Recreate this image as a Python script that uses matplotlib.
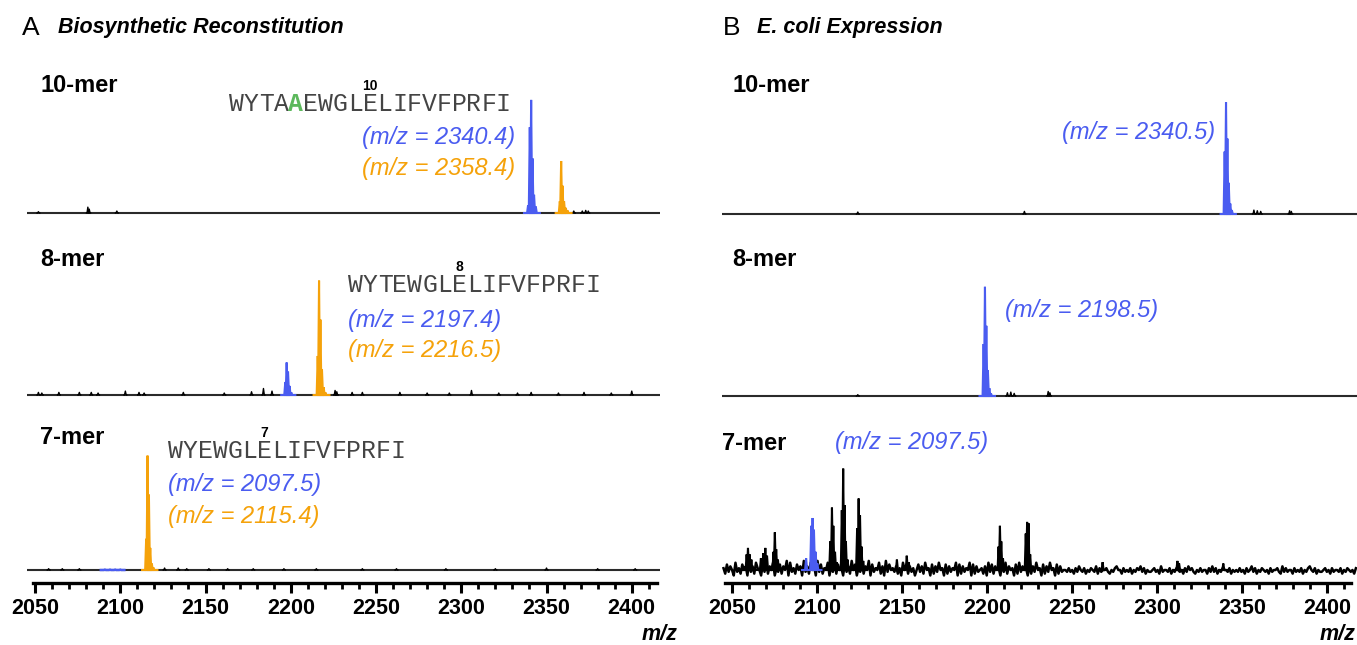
import numpy as np
import matplotlib
matplotlib.use("Agg")
import matplotlib.pyplot as plt
from matplotlib.ticker import MultipleLocator

# canvas size in pixels (dpi 100)
W, H = 1357, 645

BLUE = "#4a5cf0"
ORANGE = "#f5a20a"
GREEN = "#5cb85c"
SANS = "Liberation Sans"
MONO = "Liberation Mono"

# isotope sticks: (m/z, intensity in % of row height)
A10_BLUE = [(2339.2, 6), (2340.2, 66), (2341.0, 87), (2341.8, 42), (2342.7, 14), (2343.7, 5)]
A10_ORANGE = [(2357.8, 9), (2358.6, 40), (2359.4, 21), (2360.3, 9), (2361.3, 4), (2362.3, 2)]
A10_MINOR = [(2052.0, 1), (2081.0, 4.5), (2081.8, 3), (2098.0, 1.5), (2366.0, 1.5), (2371.0, 1.5), (2373.0, 2), (2374.5, 1.5)]

A8_BLUE = [(2196.8, 10), (2197.6, 25), (2198.4, 18), (2199.3, 7), (2200.3, 2)]
A8_ORANGE = [(2215.8, 30), (2216.6, 88), (2217.4, 58), (2218.3, 20), (2219.3, 6), (2220.3, 2)]
A8_MINOR = [(2052.0, 2), (2054.0, 1.5), (2064.0, 2), (2076.0, 2), (2083.0, 2), (2087.0, 1.5),
            (2103.0, 3), (2111.0, 2), (2114.0, 1.5), (2137.0, 2), (2161.0, 1.5), (2177.0, 2.5),
            (2184.0, 5), (2189.0, 3), (2226.0, 3.5), (2227.0, 2.5), (2236.0, 2), (2242.0, 2),
            (2264.0, 2), (2280.0, 1.5), (2293.0, 1.5), (2306.0, 3.5), (2322.0, 1.5), (2333.0, 1.5),
            (2341.0, 2), (2357.0, 1.5), (2372.0, 2), (2388.0, 1.5), (2400.0, 3)]

A7_BLUE = [(2091.0, 0.3), (2094.0, 0.3), (2097.0, 0.3), (2100.0, 0.3)]
A7_ORANGE = [(2115.2, 24), (2116.0, 88), (2116.8, 58), (2117.6, 17), (2118.5, 5), (2119.4, 2)]
A7_MINOR = [(2058.0, 1), (2066.0, 1), (2076.0, 1), (2126.0, 1.5), (2134.0, 1.5), (2139.0, 1),
            (2152.0, 1), (2163.0, 1), (2178.0, 1), (2196.0, 1), (2215.0, 1), (2242.0, 1),
            (2262.0, 1), (2291.0, 1), (2320.0, 1), (2350.0, 1.5), (2380.0, 1), (2402.0, 1)]

B10_BLUE = [(2339.8, 48), (2340.6, 86), (2341.4, 58), (2342.2, 24), (2343.1, 8), (2344.0, 3)]
B10_MINOR = [(2124.0, 1.5), (2222.0, 2), (2357.0, 3), (2359.0, 2.5), (2361.0, 2), (2378.0, 2.5), (2379.0, 2)]

B8_BLUE = [(2198.0, 40), (2198.8, 84), (2199.6, 54), (2200.5, 20), (2201.4, 6), (2202.3, 2)]
B8_MINOR = [(2124.0, 1), (2212.0, 2.5), (2214.0, 3), (2216.0, 2), (2236.0, 3.5), (2237.0, 2.5)]

B7_BLUE = [(2093.6, 9), (2096.6, 34), (2097.4, 40), (2098.2, 31), (2099.2, 14), (2100.2, 5)]
B7_PEAKS = [
    [(2058.6, 12), (2059.4, 17), (2060.4, 12), (2061.4, 8)],
    [(2067.0, 9), (2068.4, 13), (2069.6, 17), (2070.6, 11)],
    [(2074.4, 14), (2075.2, 29), (2076.0, 16), (2077.0, 8)],
    [(2107.8, 22), (2108.8, 48), (2109.6, 34), (2110.6, 14), (2111.6, 6)],
    [(2114.6, 46), (2115.4, 78), (2116.2, 50), (2117.0, 22), (2118.0, 8)],
    [(2123.6, 32), (2124.5, 55), (2125.3, 42), (2126.2, 18), (2127.2, 7)],
    [(2147.0, 8)],
    [(2152.8, 11), (2154.0, 6)],
    [(2206.8, 18), (2207.6, 34), (2208.4, 22), (2209.4, 9)],
    [(2222.8, 28), (2223.6, 37), (2224.4, 36), (2225.4, 12)],
    [(2268.0, 6)],
    [(2312.0, 7), (2313.0, 5)],
    [(2339.0, 5)],
]
# baseline noise of the E. coli 7-mer trace, one digit per step (4 = baseline)
B7_NOISE = (
    "52736418352746193628541739264815372649183527461936"
    "28461937254816392745183629471538264917354826193745"
    "36251847263514736284517263845172635481726354817263"
    "45261837264517382645172836451726384517263845172634"
    "43534253643524354362534453243564425343524354635243"
    "34534263443524354342536453243534425363524354435243"
    "43534253463524354342534453263534425343524356435243"
    "345342534435243543425"
)

TICKS = [2050, 2100, 2150, 2200, 2250, 2300, 2350, 2400]

SEQ10 = "WYTAAEWGLELIFVFPRFI"
SEQ8 = "WYTEWGLELIFVFPRFI"
SEQ7 = "WYEWGLELIFVFPRFI"

fig = plt.figure(figsize=(W / 100, H / 100), dpi=100)


def fx(x):
    return x / W


def fy(y):
    return 1 - y / H


def add_row(left, right, base, x2050, ppu, depth=8, top=130):
    ax = fig.add_axes([fx(left), fy(base + depth), (right - left) / W, (top + depth) / H])
    ax.set_xlim(2050 + (left - x2050) / ppu, 2050 + (right - x2050) / ppu)
    ax.set_ylim(-depth / top * 100, 100)
    ax.patch.set_alpha(0)
    for s in ax.spines.values():
        s.set_visible(False)
    ax.set_xticks([])
    ax.set_yticks([])
    return ax


def sticks_polygon(sticks, w=0.6, pad=2.4):
    xs = [sticks[0][0] - pad]
    ys = [0]
    for m, h in sticks:
        xs += [m - w, m, m + w]
        ys += [0, h, 0]
    xs.append(sticks[-1][0] + pad)
    ys.append(0)
    return xs, ys


def draw_cluster(ax, sticks, color, lw=1.5):
    xs, ys = sticks_polygon(sticks)
    ax.fill(xs, ys, color=color, lw=0)
    ax.plot(xs, ys, color=color, lw=lw, solid_joinstyle="miter")


def draw_minor(ax, sticks):
    for m, h in sticks:
        xs, ys = sticks_polygon([(m, h)], w=0.5, pad=0.8)
        ax.fill(xs, ys, color="black", lw=0)
        ax.plot(xs, ys, color="black", lw=1.0)


def draw_baseline(ax):
    ax.plot(ax.get_xlim(), [0, 0], color="#2a2a2a", lw=1.5)


def draw_axis(ax, lo, hi):
    sp = ax.spines["bottom"]
    sp.set_visible(True)
    sp.set_linewidth(2.4)
    sp.set_bounds(lo, hi)
    ax.set_xticks(TICKS)
    ax.set_xticklabels([str(t) for t in TICKS], fontsize=15.5, fontweight="bold", family=SANS)
    ax.xaxis.set_minor_locator(MultipleLocator(10))
    ax.tick_params(axis="x", which="major", length=7, width=2.2, pad=3.5)
    ax.tick_params(axis="x", which="minor", length=4.5, width=2.0)


# ---- panel A rows
LX, LPPU = 35, 1.705
a10 = add_row(27, 660, 213, LX, LPPU)
a8 = add_row(27, 660, 395, LX, LPPU)
a7 = add_row(27, 660, 570, LX, LPPU, depth=13)

for ax, minor in ((a10, A10_MINOR), (a8, A8_MINOR), (a7, A7_MINOR)):
    draw_baseline(ax)
    draw_minor(ax, minor)

draw_cluster(a10, A10_BLUE, BLUE)
draw_cluster(a10, A10_ORANGE, ORANGE)
draw_cluster(a8, A8_BLUE, BLUE)
draw_cluster(a8, A8_ORANGE, ORANGE)
draw_cluster(a7, A7_BLUE, BLUE, lw=1.8)
draw_cluster(a7, A7_ORANGE, ORANGE)
draw_axis(a7, 2048.8, 2414.8)

# ---- panel B rows
RX, RPPU = 732, 1.70
b10 = add_row(722, 1357, 214, RX, RPPU)
b8 = add_row(722, 1357, 396, RX, RPPU)
b7 = add_row(722, 1357, 570, RX, RPPU, depth=13)

for ax, minor in ((b10, B10_MINOR), (b8, B8_MINOR)):
    draw_baseline(ax)
    draw_minor(ax, minor)
draw_cluster(b10, B10_BLUE, BLUE)
draw_cluster(b8, B8_BLUE, BLUE)

noise = np.array([(int(d) - 4) * 1.4 for d in B7_NOISE])
nx = np.linspace(2045, 2417, len(noise))
b7.plot(nx, noise, color="black", lw=1.8)
for pk in B7_PEAKS:
    draw_cluster(b7, pk, "black", lw=1.5)
draw_cluster(b7, B7_BLUE, BLUE)
draw_axis(b7, 2045.9, 2414.0)


# ---- text
def t(x, y, s, **kw):
    kw.setdefault("family", SANS)
    kw.setdefault("va", "center")
    kw.setdefault("ha", "left")
    fig.text(fx(x), fy(y), s, **kw)


t(22, 28, "A", fontsize=19)
t(58, 28, "Biosynthetic Reconstitution", fontsize=15.5, fontweight="bold", style="italic")
t(723, 28, "B", fontsize=19)
t(757, 28, "E. coli Expression", fontsize=15.5, fontweight="bold", style="italic")

for x, y, s in ((40, 86, "10-mer"), (40, 259, "8-mer"), (40, 437, "7-mer"),
                (732, 86, "10-mer"), (732, 259, "8-mer"), (722, 443, "7-mer")):
    t(x, y, s, fontsize=17, fontweight="bold")

SEQ_FS = 17.8
ADV = 0.6 * SEQ_FS * 100 / 72  # px per character


def sequence(x0, y, seq, pos, highlight=None):
    for i, ch in enumerate(seq):
        if i == highlight:
            t(x0 + i * ADV, y, ch, family=MONO, fontsize=SEQ_FS, color=GREEN, fontweight="bold")
        else:
            t(x0 + i * ADV, y, ch, family=MONO, fontsize=SEQ_FS, color="#444444")
    t(x0 + (pos - 0.5) * ADV, y - 18, str(pos), fontsize=10, fontweight="bold", ha="center")


sequence(229, 104, SEQ10, 10, highlight=4)
sequence(348, 285, SEQ8, 8)
sequence(168, 451, SEQ7, 7)

MZ_FS = 17
for x, y, s, c, ha in ((362, 137, "(m/z = 2340.4)", BLUE, "left"),
                       (362, 168, "(m/z = 2358.4)", ORANGE, "left"),
                       (348, 320, "(m/z = 2197.4)", BLUE, "left"),
                       (348, 350, "(m/z = 2216.5)", ORANGE, "left"),
                       (168, 485, "(m/z = 2097.5)", BLUE, "left"),
                       (168, 516, "(m/z = 2115.4)", ORANGE, "left"),
                       (1215, 133, "(m/z = 2340.5)", BLUE, "right"),
                       (1005, 311, "(m/z = 2198.5)", BLUE, "left"),
                       (835, 443, "(m/z = 2097.5)", BLUE, "left")):
    t(x, y, s, fontsize=MZ_FS, style="italic", color=c, ha=ha)

t(677, 634, "m/z", fontsize=15.5, fontweight="bold", style="italic", ha="right")
t(1356, 634, "m/z", fontsize=15.5, fontweight="bold", style="italic", ha="right")

fig.savefig("out.png", dpi=100)
